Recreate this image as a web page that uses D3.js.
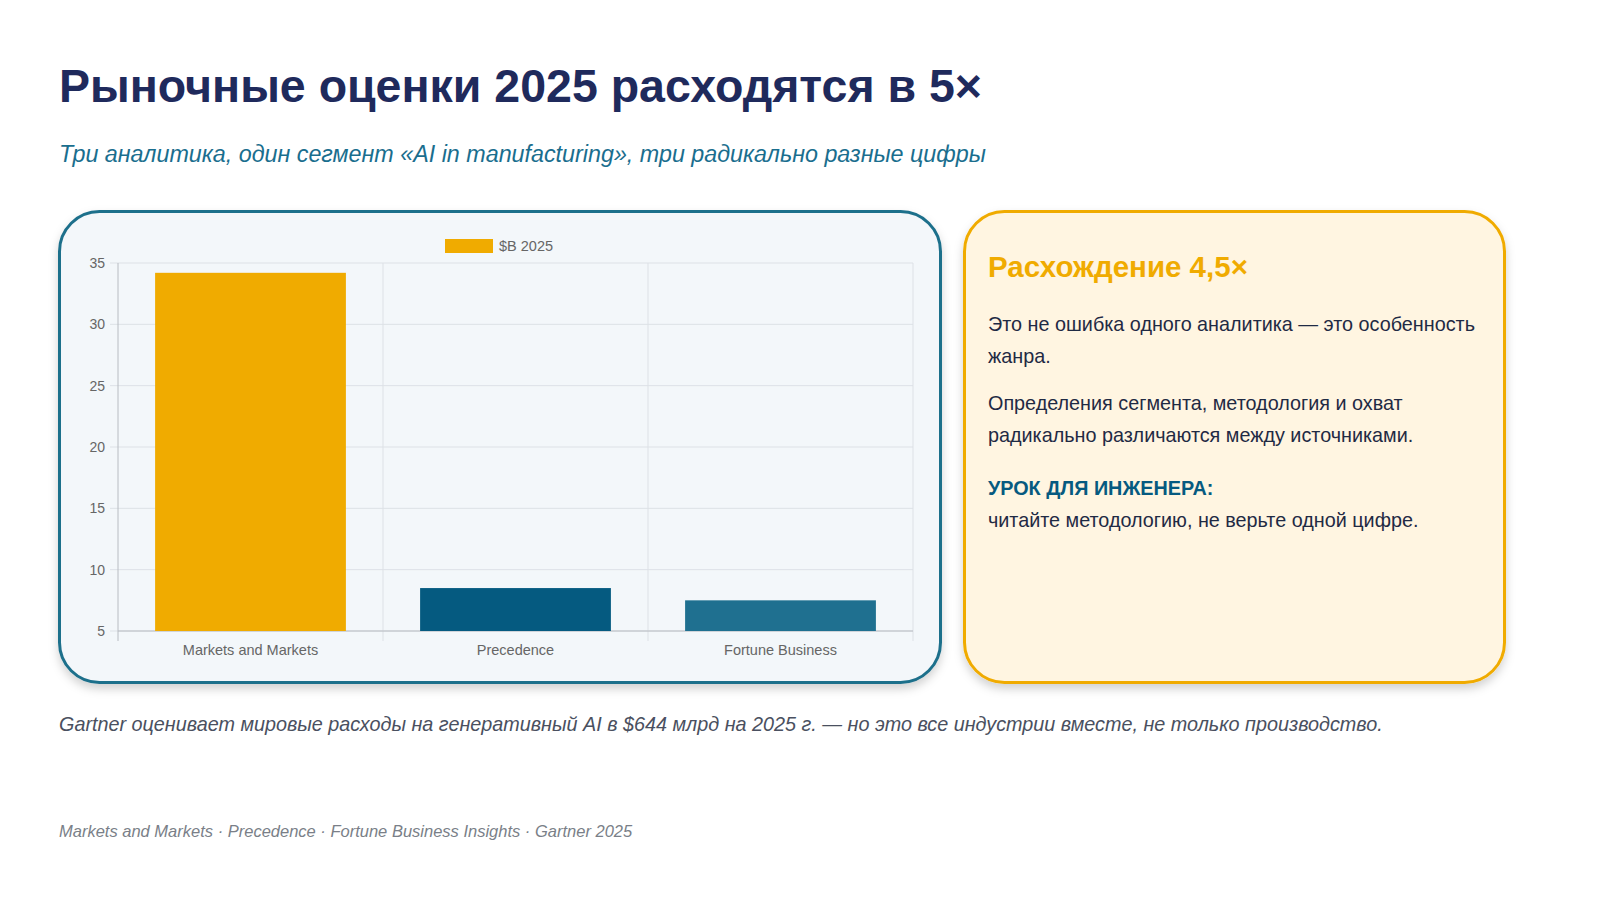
<!DOCTYPE html>
<html><head><meta charset="utf-8">
<script src="https://cdn.jsdelivr.net/npm/d3@7"></script>
<style>
body{margin:0;background:#fff;font-family:"Liberation Sans",Arial,sans-serif;}
</style></head>
<body><svg id="chart" width="1600" height="900"></svg>
<script>
const categories = ["Markets and Markets", "Precedence", "Fortune Business"];
const values = [34.2, 8.5, 7.5];
const barColors = ["#f0ab00", "#055a80", "#1f7090"];
const yTicks = [5, 10, 15, 20, 25, 30, 35];

const svg = d3.select("#chart");
const defs = svg.append("defs");
const f = defs.append("filter").attr("id", "sh").attr("x", "-10%").attr("y", "-10%").attr("width", "120%").attr("height", "125%");
f.append("feDropShadow").attr("dx", 0).attr("dy", 5).attr("stdDeviation", 5).attr("flood-color", "#000").attr("flood-opacity", 0.18);

svg.append("text").attr("x", 59).attr("y", 102).attr("font-size", 46.5).attr("font-weight", "bold")
	.attr("fill", "#1f2a5c").text("Рыночные оценки 2025 расходятся в 5×");
svg.append("text").attr("x", 59).attr("y", 162).attr("font-size", 23.3).attr("font-style", "italic")
	.attr("fill", "#1a6e8e").text("Три аналитика, один сегмент «AI in manufacturing», три радикально разные цифры");

// cards
svg.append("rect").attr("x", 59.5).attr("y", 211.5).attr("width", 881).attr("height", 471).attr("rx", 40)
	.attr("fill", "#f3f7fa").attr("stroke", "#1f6f8b").attr("stroke-width", 3).attr("filter", "url(#sh)");
svg.append("rect").attr("x", 964.5).attr("y", 211.5).attr("width", 540).attr("height", 471).attr("rx", 40)
	.attr("fill", "#fff5e1").attr("stroke", "#f0ab00").attr("stroke-width", 3).attr("filter", "url(#sh)");

// chart
const x = d3.scaleBand().domain(categories).range([118, 913]).paddingInner(0.28).paddingOuter(0.14);
const xb = d3.scaleBand().domain(categories).range([118, 913]);
const y = d3.scaleLinear().domain([5, 35]).range([631, 263]);
const g = svg.append("g");

g.selectAll(".hg").data(yTicks).join("line").attr("x1", 110).attr("x2", 913)
	.attr("y1", d => y(d)).attr("y2", d => y(d)).attr("stroke", "#dde1e6");
g.selectAll(".vg").data(categories).join("line")
	.attr("x1", d => xb(d) + xb.bandwidth()).attr("x2", d => xb(d) + xb.bandwidth())
	.attr("y1", 263).attr("y2", 641).attr("stroke", "#dde1e6");
g.append("line").attr("x1", 118).attr("x2", 118).attr("y1", 263).attr("y2", 641).attr("stroke", "#b8bcc2");
g.append("line").attr("x1", 118).attr("x2", 913).attr("y1", 631).attr("y2", 631).attr("stroke", "#b8bcc2");
g.selectAll(".yt").data(yTicks).join("text").attr("x", 105).attr("y", d => y(d) + 5)
	.attr("text-anchor", "end").attr("font-size", 14).attr("fill", "#666").text(d => d);
g.selectAll(".xt").data(categories).join("text").attr("x", d => xb(d) + xb.bandwidth() / 2).attr("y", 655)
	.attr("text-anchor", "middle").attr("font-size", 14.5).attr("fill", "#666").text(d => d);
g.selectAll(".bar").data(values).join("rect")
	.attr("x", (d, i) => x(categories[i])).attr("width", x.bandwidth())
	.attr("y", d => y(d)).attr("height", d => y(5) - y(d)).attr("fill", (d, i) => barColors[i]);

g.append("rect").attr("x", 445).attr("y", 239).attr("width", 48).attr("height", 14).attr("fill", "#f0ab00");
g.append("text").attr("x", 499).attr("y", 251).attr("font-size", 14.5).attr("fill", "#666").text("$B 2025");

// right card text
svg.append("text").attr("x", 988).attr("y", 277).attr("font-size", 29.5).attr("font-weight", "bold")
	.attr("fill", "#f0ab00").text("Расхождение 4,5×");
const lines = [
	["Это не ошибка одного аналитика — это особенность", 331, false],
	["жанра.", 363, false],
	["Определения сегмента, методология и охват", 410, false],
	["радикально различаются между источниками.", 442, false],
	["УРОК ДЛЯ ИНЖЕНЕРА:", 495, true],
	["читайте методологию, не верьте одной цифре.", 527, false]
];
svg.selectAll(".ln").data(lines).join("text").attr("x", 988).attr("y", d => d[1]).attr("font-size", 19.8)
	.attr("font-weight", d => d[2] ? "bold" : "normal").attr("fill", d => d[2] ? "#065a80" : "#1f2a44").text(d => d[0]);

svg.append("text").attr("x", 59).attr("y", 731).attr("font-size", 19.8).attr("font-style", "italic").attr("fill", "#4a5060")
	.text("Gartner оценивает мировые расходы на генеративный AI в $644 млрд на 2025 г. — но это все индустрии вместе, не только производство.");
svg.append("text").attr("x", 59).attr("y", 837).attr("font-size", 16.5).attr("font-style", "italic").attr("fill", "#7a7f88")
	.text("Markets and Markets · Precedence · Fortune Business Insights · Gartner 2025");
</script></body></html>
